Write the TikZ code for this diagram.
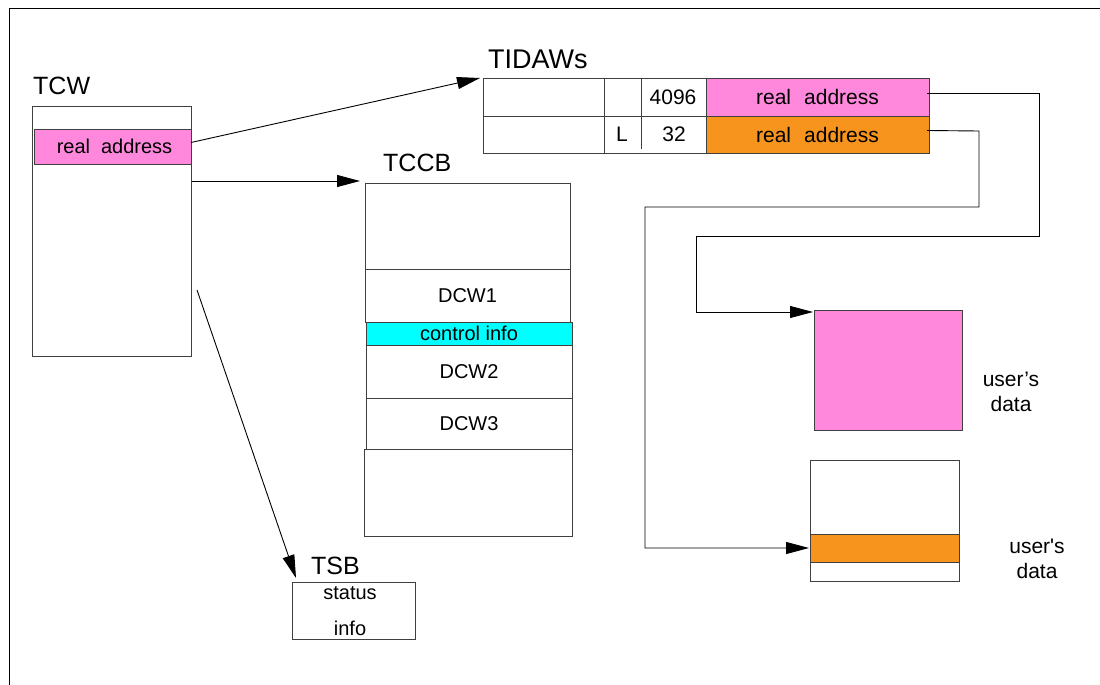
\documentclass[tikz,border=0pt]{standalone}
\usepackage{fontspec}
\setmainfont{Liberation Sans}
\usetikzlibrary{arrows.meta,calc}
\definecolor{pinkc}{HTML}{FF88DD}
\definecolor{orangec}{HTML}{F7941D}
\definecolor{cyanc}{HTML}{00FFFF}
\begin{document}
\begin{tikzpicture}[x=1pt,y=-1pt,
  box/.style={draw=black!75, line width=0.9pt, anchor=north west, inner sep=0pt, outer sep=0pt},
  lbl/.style={font=\fontsize{25}{28}\selectfont, inner sep=0pt, anchor=base west},
  txt/.style={font=\fontsize{20}{24}\selectfont},
  ttxt/.style={font=\fontsize{21}{25}\selectfont, inner sep=0pt},
  conn/.style={line width=0.9pt, draw=black},
  arr/.style={conn, -{Triangle[length=23pt,width=12pt]}},
]
\useasboundingbox (0,0) rectangle (1100,685);
\draw[line width=1.5pt] (9.5,685) -- (9.5,8.5) -- (1100,8.5);

% TCW
\node[lbl] (tcwl) at (33,95) {TCW};
\node[box, minimum width=159pt, minimum height=250pt] (tcw) at (32,106) {};
\node[box, fill=pinkc, minimum width=157pt, minimum height=35pt, txt] (tcwaddr) at (34,129) {\hspace{4pt}real\hspace{11pt}address};

% TIDAWs
\node[lbl, font=\fontsize{27}{30}\selectfont] (tidawl) at (488,68) {TIDAWs};
\node[box, minimum width=446pt, minimum height=75pt] (tidaw) at (483,78) {};
\node[box, fill=pinkc, minimum width=223pt, minimum height=38pt, ttxt] (pinkcell) at (706,78) {real\hspace{13pt}address};
\node[box, fill=orangec, minimum width=223pt, minimum height=37pt, ttxt] (orangecell) at (706,116) {real\hspace{13pt}address};
\draw[box] (tidaw.west |- pinkcell.south) -- (pinkcell.south west);
\draw[box] (604,78) -- (604,153);
\draw[box] (641,78) -- (641,149);
\node[ttxt] (n4096) at (673,97) {4096};
\node[ttxt] (nL) at (622,134) {L};
\node[ttxt] (n32) at (674,134) {32};

% TCCB
\node[lbl] (tccbl) at (383,171) {TCCB};
\node[box, minimum width=205pt, minimum height=86pt] (tccbtop) at (365,183) {};
\node[box, minimum width=205pt, minimum height=53pt, txt] (dcw1) at (365,269) {DCW1};
\node[box, fill=cyanc, minimum width=206pt, minimum height=23pt, txt] (ctrl) at (366,322) {control info};
\node[box, minimum width=206pt, minimum height=53pt, txt] (dcw2) at (366,345) {DCW2};
\node[box, minimum width=206pt, minimum height=51pt, txt] (dcw3) at (366,398) {DCW3};
\node[box, minimum width=208pt, minimum height=87pt] (tccbbot) at (364,449) {};

% TSB
\node[lbl] (tsbl) at (311,574) {TSB};
\node[box, minimum width=123pt, minimum height=57pt] (tsb) at (292,582) {};
\node[txt, inner sep=0pt] (status) at (350,593) {status};
\node[txt, inner sep=0pt] (info) at (350,628) {info};

% user's data
\node[box, fill=pinkc, minimum width=148pt, minimum height=120pt] (userpink) at (814,310) {};
\node[ttxt, align=center] (ud1) at (1011,392) {user's\\data};
\node[box, minimum width=149pt, minimum height=121pt] (userbox) at (810,460) {};
\node[box, fill=orangec, minimum width=149pt, minimum height=28pt] (userorange) at (810,534) {};
\node[ttxt, align=center] (ud2) at (1037,559) {user\textquotesingle s\\data};

% connectors
\draw[arr] ([yshift=4pt]tcwaddr.east) -- ([xshift=-3pt]tidaw.north west);
\draw[arr] ($(tcw.north east)+(1,75)$) -- ($(tccbtop.north west)+(-5,-2)$);
\coordinate (tsbstart) at (197,290);
\draw[arr] (tsbstart) -- ($(tsb.north west)+(4,-4)$);
\draw[arr] ([yshift=4pt,xshift=-2pt]pinkcell.east) -- (1039,93) -- (1039,236) -- (696,236) -- (696,312) -- ($(userpink.north west)+(-1,2)$);
\draw[arr] ([yshift=4pt,xshift=-2pt]orangecell.east) -- (979,131) -- (979,207) -- (645,207) -- (645,548) -- ($(userorange.west)+(-1,0)$);
\end{tikzpicture}
\end{document}
